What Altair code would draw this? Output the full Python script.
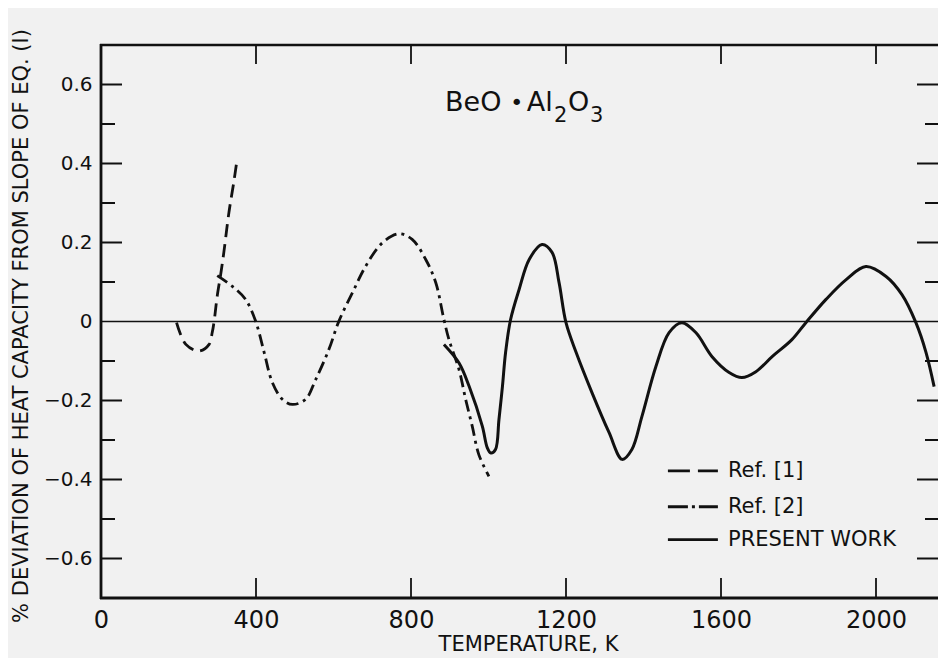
import altair as alt
import pandas as pd

# ---- data ----
ref1_T = [195, 219, 253, 279, 287, 292, 300, 309, 317, 330, 343, 350]
ref1_D = [-0.003, -0.058, -0.075, -0.058, -0.028, 0.001, 0.065, 0.12, 0.175, 0.275, 0.355, 0.402]

ref2_T = [300, 339, 373, 399, 421, 442, 468, 494, 528, 554, 588, 614, 649, 683, 726, 769,
          803, 838, 864, 885, 898, 924, 941, 958, 975, 1001]
ref2_D = [0.116, 0.089, 0.056, 0.001, -0.078, -0.154, -0.197, -0.210, -0.197, -0.147, -0.071,
          0.001, 0.073, 0.140, 0.199, 0.222, 0.208, 0.157, 0.098, 0.005, -0.046, -0.122,
          -0.197, -0.265, -0.337, -0.392]

pres_T = [885, 924, 950, 984, 997, 1006, 1018, 1027, 1036, 1044, 1057, 1079, 1105, 1138, 1164,
          1182, 1200, 1226, 1267, 1311, 1345, 1370, 1396, 1432, 1466, 1499, 1535, 1577, 1621,
          1654, 1690, 1732, 1783, 1819, 1871, 1923, 1974, 2026, 2067, 2103, 2129, 2150]
pres_D = [-0.058, -0.105, -0.164, -0.265, -0.320, -0.333, -0.324, -0.248, -0.164, -0.079, 0.005,
          0.081, 0.157, 0.195, 0.175, 0.099, -0.003, -0.078, -0.180, -0.281, -0.349, -0.324,
          -0.240, -0.114, -0.028, -0.003, -0.028, -0.089, -0.129, -0.142, -0.127, -0.089,
          -0.046, -0.003, 0.056, 0.106, 0.139, 0.114, 0.068, -0.003, -0.078, -0.165]

x_ticks = [0, 400, 800, 1200, 1600, 2000]
y_major = [-0.6, -0.4, -0.2, 0.2, 0.4, 0.6]
y_minor = [-0.5, -0.3, -0.1, 0.1, 0.3, 0.5]
y_labels = [-0.6, -0.4, -0.2, 0, 0.2, 0.4, 0.6]

legend_names = ["Ref. [1]", "Ref. [2]", "PRESENT WORK"]
legend_D = [-0.378, -0.469, -0.552]
legend_T0, legend_T1, legend_Ttext = 1463, 1592, 1618

X_DOM = [0, 2160]
Y_DOM = [-0.7, 0.7]
W, H = 837, 553
FONT = "DejaVu Sans"
INK = "#111111"

xsc = alt.Scale(domain=X_DOM, nice=False, zero=False)
ysc = alt.Scale(domain=Y_DOM, nice=False, zero=False)

x_axis = alt.Axis(values=x_ticks, ticks=False, domain=False, grid=False, format="d",
                  labelFontSize=24, labelPadding=10, labelFont=FONT,
                  labelColor=INK, labelOverlap=False, labelFlush=False,
                  title="TEMPERATURE, K", titleFontSize=21, titleFont=FONT,
                  titleFontWeight="normal", titleColor=INK,
                  titleX=427, titleY=46, titleBaseline="middle", titleAlign="center")
y_axis = alt.Axis(values=y_labels, ticks=False, domain=False, grid=False,
                  labelFontSize=20, labelPadding=9, labelFont=FONT,
                  labelColor=INK, labelOverlap=False,
                  labelExpr="datum.value == 0 ? '0' : format(datum.value, '.1f')",
                  title="% DEVIATION OF HEAT CAPACITY FROM SLOPE OF EQ. (I)",
                  titleFontSize=21, titleFont=FONT, titleFontWeight="normal",
                  titleColor=INK, titleX=-80, titleY=H / 2 + 4, titleAngle=270,
                  titleAlign="center", titleBaseline="middle")

X = alt.X("T:Q", scale=xsc, axis=x_axis)
Y = alt.Y("D:Q", scale=ysc, axis=y_axis)


def series(T, D):
    return pd.DataFrame({"T": T, "D": D})


INTERP = "catmull-rom"

ref1 = alt.Chart(series(ref1_T, ref1_D)).mark_line(
    interpolate=INTERP, color=INK, strokeWidth=2.8, strokeDash=[13, 7]
).encode(x=X, y=Y)

ref2 = alt.Chart(series(ref2_T, ref2_D)).mark_line(
    interpolate=INTERP, color=INK, strokeWidth=2.8, strokeDash=[12, 5, 3, 5]
).encode(x=X, y=Y)

pres = alt.Chart(series(pres_T, pres_D)).mark_line(
    interpolate=INTERP, color=INK, strokeWidth=3
).encode(x=X, y=Y)

zero = alt.Chart(pd.DataFrame({"D": [0]})).mark_rule(color=INK, strokeWidth=1.5).encode(y=Y)

# frame (top, left, bottom)
frame_top = alt.Chart(pd.DataFrame({"a": [0]})).mark_rule(color=INK, strokeWidth=2.5).encode(
    x=alt.value(-1), x2=alt.value(W), y=alt.value(0))
frame_left = alt.Chart(pd.DataFrame({"a": [0]})).mark_rule(color=INK, strokeWidth=2.8).encode(
    x=alt.value(0), y=alt.value(-1), y2=alt.value(H + 1))
frame_bottom = alt.Chart(pd.DataFrame({"a": [0]})).mark_rule(color=INK, strokeWidth=2.8).encode(
    x=alt.value(-1), x2=alt.value(W), y=alt.value(H))


def ytick(vals, x0, x1):
    return alt.Chart(pd.DataFrame({"D": vals})).mark_rule(color=INK, strokeWidth=2).encode(
        y=Y, x=alt.value(x0), x2=alt.value(x1))


def xtick(vals, y0, y1):
    return alt.Chart(pd.DataFrame({"T": [v for v in vals if v > 0]})).mark_rule(
        color=INK, strokeWidth=1.8).encode(x=X, y=alt.value(y0), y2=alt.value(y1))


ticks = [
    ytick(y_major, 0, 21), ytick(y_minor, 0, 14),
    ytick(y_major, W - 21, W), ytick(y_minor, W - 13, W),
    xtick(x_ticks, 0, 19), xtick(x_ticks, H - 20, H),
]

# formula title  BeO•Al2O3
title_T = [888, 1073, 1099, 1169, 1205, 1262]
title_D = [0.532, 0.552, 0.532, 0.506, 0.532, 0.506]
title_txt = ["BeO", "\u2022", "Al", "2", "O", "3"]
title_size = [27, 22, 27, 21, 27, 21]
title_layers = []
for t, d, s, fs in zip(title_T, title_D, title_txt, title_size):
    title_layers.append(
        alt.Chart(pd.DataFrame({"T": [t], "D": [d], "txt": [s]})).mark_text(
            font=FONT, fontSize=fs, color=INK,
            align="center" if s == "\u2022" else "left",
            baseline="middle" if s == "\u2022" else "alphabetic"
        ).encode(x=X, y=Y, text="txt:N"))

# legend
leg_lines = []
dashes = [[22, 8], [20, 4, 3, 4], None]
for name, d, dash in zip(legend_names, legend_D, dashes):
    df = pd.DataFrame({"T": [legend_T0, legend_T1], "D": [d, d]})
    kw = dict(color=INK, strokeWidth=2.8)
    if dash:
        kw["strokeDash"] = dash
    leg_lines.append(alt.Chart(df).mark_line(**kw).encode(x=X, y=Y))
leg_text = alt.Chart(pd.DataFrame({"T": [legend_Ttext] * 3, "D": legend_D,
                                   "name": legend_names})).mark_text(
    font=FONT, fontSize=21, color=INK, align="left", baseline="middle").encode(
    x=X, y=Y, text="name:N")

chart = alt.layer(
    pres, zero, ref1, ref2, frame_top, frame_left, frame_bottom, *ticks,
    *title_layers, *leg_lines, leg_text
).properties(
    width=W, height=H,
    padding={"left": 93, "top": 37, "right": 0, "bottom": 60},
    autosize=alt.AutoSizeParams(type="none"),
    background="#f1f1f1",
).configure_view(stroke=None)

chart.save("out.html", embed_options={"renderer": "svg", "actions": False})
